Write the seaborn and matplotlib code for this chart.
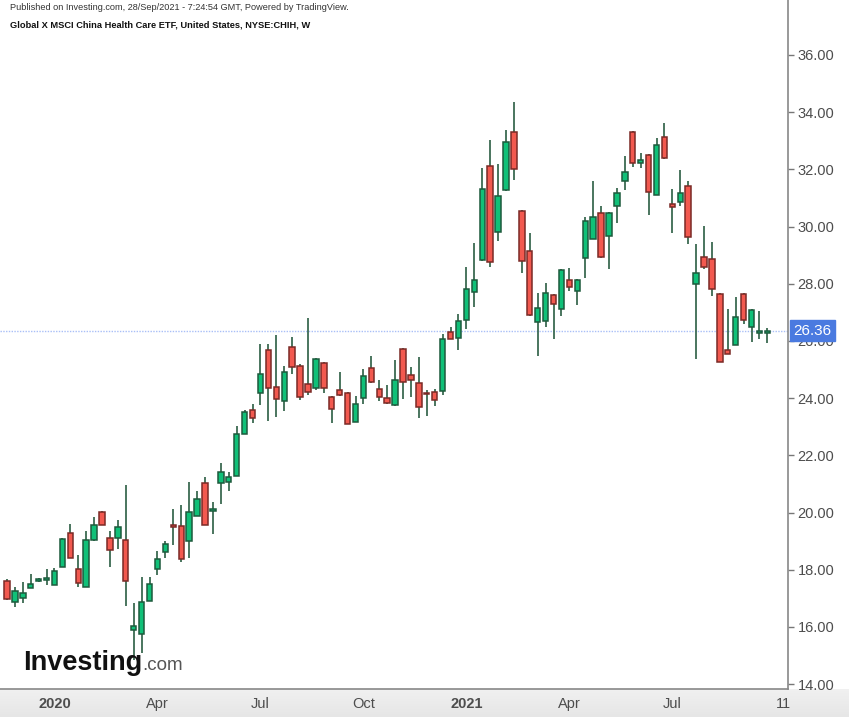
import numpy as np
import pandas as pd
import seaborn as sns
import matplotlib.pyplot as plt
from matplotlib.ticker import FixedLocator, FuncFormatter

# weekly bars of NYSE:CHIH, first bar = week of 25 Nov 2019
opens = [17.61, 16.86, 17.00, 17.36, 17.60, 17.65, 17.46, 18.10, 19.30, 18.03,
         17.41, 19.03, 20.03, 19.11, 19.11, 19.03, 15.88, 15.76, 16.91, 18.02,
         18.63, 19.57, 19.53, 19.02, 19.89, 21.05, 20.05, 21.05, 21.08, 21.28,
         22.74, 23.58, 24.17, 25.69, 24.40, 23.90, 25.78, 25.14, 24.50, 24.35,
         25.23, 24.03, 24.28, 24.17, 23.16, 24.02, 25.05, 24.31, 24.00, 23.75,
         25.73, 24.81, 24.54, 24.15, 24.23, 24.26, 26.30, 26.09, 26.73, 27.71,
         28.82, 32.12, 29.82, 31.26, 33.32, 30.56, 29.14, 26.65, 26.70, 27.61,
         27.12, 28.12, 27.76, 28.91, 29.56, 30.46, 29.68, 30.70, 31.58, 33.32,
         32.21, 32.50, 31.10, 33.14, 30.78, 30.84, 31.40, 27.98, 28.93, 28.87,
         27.63, 25.70, 25.87, 27.63, 26.47, 26.28, 26.29]
highs = [17.68, 17.39, 17.56, 17.84, 17.72, 18.03, 18.07, 19.12, 19.59, 18.53,
         19.36, 19.86, 20.05, 19.36, 19.73, 20.97, 16.83, 17.74, 17.74, 18.67,
         19.02, 20.14, 20.27, 21.06, 20.76, 21.23, 20.37, 21.74, 21.43, 23.04,
         23.59, 23.80, 25.88, 25.88, 26.21, 25.13, 26.12, 25.18, 26.81, 25.40,
         25.25, 24.06, 24.93, 24.20, 24.09, 25.01, 25.47, 24.65, 24.45, 25.34,
         25.76, 25.10, 25.43, 24.29, 24.32, 26.24, 26.48, 26.94, 28.60, 29.42,
         32.04, 33.02, 32.19, 33.38, 34.35, 30.58, 29.79, 27.67, 28.04, 27.65,
         28.50, 28.54, 28.18, 30.35, 31.59, 30.72, 30.50, 31.36, 32.47, 33.35,
         32.56, 32.52, 33.10, 33.61, 31.31, 31.96, 31.59, 29.38, 30.02, 29.47,
         27.69, 27.13, 27.54, 27.69, 27.12, 27.04, 26.44]
lows = [16.95, 16.71, 16.85, 17.36, 17.58, 17.45, 17.45, 18.08, 18.40, 17.40,
        17.40, 19.02, 19.56, 18.09, 18.73, 16.74, 14.85, 15.10, 16.90, 17.81,
        18.40, 18.87, 18.26, 18.40, 19.88, 19.55, 19.24, 20.30, 20.77, 21.27,
        22.73, 23.14, 23.75, 23.20, 23.33, 23.56, 24.85, 23.94, 24.11, 24.30,
        24.17, 23.14, 24.08, 23.09, 23.15, 23.80, 24.52, 23.91, 23.80, 23.74,
        23.97, 24.05, 23.30, 23.38, 23.74, 24.10, 26.05, 25.69, 26.41, 27.20,
        28.80, 28.58, 29.50, 31.25, 31.63, 28.39, 26.87, 25.49, 26.47, 26.06,
        26.87, 27.75, 27.26, 28.21, 29.55, 28.89, 28.52, 30.14, 31.28, 32.09,
        32.06, 30.41, 31.09, 32.35, 29.77, 30.70, 29.39, 25.36, 28.53, 27.57,
        25.26, 25.53, 25.86, 26.58, 25.96, 26.08, 25.92]
closes = [16.98, 17.27, 17.18, 17.50, 17.69, 17.68, 17.97, 19.08, 18.41, 17.55,
          19.03, 19.58, 19.58, 18.69, 19.49, 17.60, 16.05, 16.86, 17.50, 18.37,
          18.89, 19.49, 18.37, 20.03, 20.49, 19.57, 20.09, 21.41, 21.23, 22.75,
          23.53, 23.30, 24.86, 24.35, 23.98, 24.91, 25.10, 24.03, 24.21, 25.37,
          24.35, 23.61, 24.11, 23.11, 23.80, 24.78, 24.58, 24.03, 23.84, 24.64,
          24.58, 24.63, 23.70, 24.13, 23.94, 26.06, 26.08, 26.70, 27.81, 28.12,
          31.30, 28.77, 31.06, 32.96, 32.02, 28.81, 26.92, 27.15, 27.67, 27.29,
          28.48, 27.90, 28.12, 30.20, 30.34, 28.95, 30.46, 31.16, 31.90, 32.22,
          32.32, 31.20, 32.86, 32.38, 30.69, 31.16, 29.64, 28.37, 28.58, 27.81,
          25.28, 25.55, 26.84, 26.73, 27.07, 26.30, 26.36]

tick_pos = [6, 19, 32, 45, 58, 71, 84, 98]
tick_labels = ["2020", "Apr", "Jul", "Oct", "2021", "Apr", "Jul", "11"]
y_ticks = [14, 16, 18, 20, 22, 24, 26, 28, 30, 32, 34, 36]
last_price = 26.36

df = pd.DataFrame({"open": opens, "high": highs, "low": lows, "close": closes})
df["x"] = np.arange(len(df))
df["up"] = df["close"] >= df["open"]
df["bottom"] = df[["open", "close"]].min(axis=1)
df["height"] = (df["close"] - df["open"]).abs().clip(lower=0.06)

sns.set_theme(style="white")
plt.rcParams["font.family"] = ["Liberation Sans", "DejaVu Sans"]

fig = plt.figure(figsize=(8.49, 7.17), dpi=100)

# grey strip under the time axis
strip = fig.add_axes([0, 0, 1, 28 / 717])
grad = np.linspace(0, 1, 50).reshape(-1, 1)
strip.imshow(grad, aspect="auto", cmap=sns.light_palette("#e6e6e6", as_cmap=True),
             extent=[0, 1, 0, 1], origin="upper")
strip.axis("off")

ax = fig.add_axes([0, 28 / 717, 788 / 849, 689 / 717])
ax.set_facecolor("white")

green, red = "#10c078", "#f2594f"
wick = "#3b6a52"

ax.vlines(df["x"], df["low"], df["high"], color=wick, lw=1.3, zorder=2)
for up, face, edge in [(True, green, "#1d5a3c"), (False, red, "#7a2a26")]:
    d = df[df["up"] == up]
    ax.bar(d["x"], d["height"], bottom=d["bottom"], width=0.68,
           color=face, edgecolor=edge, linewidth=1.1, zorder=3)

ax.axhline(last_price, color="#a9bff7", lw=1, ls=(0, (1, 1)), zorder=1)

ax.set_xlim(-0.88, 98.6)
ax.set_ylim(13.83, 37.92)

ax.xaxis.set_major_locator(FixedLocator(tick_pos))
ax.set_xticklabels(tick_labels)
for lab in ax.get_xticklabels():
    if lab.get_text() in ("2020", "2021"):
        lab.set_fontweight("bold")
ax.yaxis.tick_right()
ax.yaxis.set_major_locator(FixedLocator(y_ticks))
ax.yaxis.set_major_formatter(FuncFormatter(lambda v, p: f"{v:.2f}"))
ax.tick_params(axis="both", colors="#777777", labelcolor="#4d4d4d",
               labelsize=10.5, length=4, width=1, pad=3)
ax.tick_params(axis="x", pad=2)

for s in ["left", "top"]:
    ax.spines[s].set_visible(False)
for s in ["right", "bottom"]:
    ax.spines[s].set_color("#888888")
    ax.spines[s].set_linewidth(1.2)

# last price tag, drawn over the 26.00 label as in the original
ax.annotate(f"{last_price:.2f}", xy=(1.0, last_price), xycoords=("axes fraction", "data"),
            xytext=(4, 0), textcoords="offset points", va="center", ha="left",
            color="white", fontsize=11, zorder=10,
            bbox=dict(boxstyle="square,pad=0.22", fc="#4a7ae0", ec="#4a7ae0"))

fig.text(10 / 849, 1 - 8 / 717, "Published on Investing.com, 28/Sep/2021 - 7:24:54 GMT, Powered by TradingView.",
         fontsize=6.6, color="#333333", va="center", ha="left")
fig.text(10 / 849, 1 - 25 / 717, "Global X MSCI China Health Care ETF, United States, NYSE:CHIH, W",
         fontsize=6.7, color="#111111", fontweight="bold", va="center", ha="left")

# watermark
logo = fig.text(23 / 849, 1 - 670 / 717, "Investing", fontsize=19.5, fontweight="bold",
                color="#111111", va="baseline", ha="left")
fig.canvas.draw()
bb = logo.get_window_extent()
fig.text(bb.x1 / fig.bbox.width, 1 - 670 / 717, ".com", fontsize=13.5,
         color="#555555", va="baseline", ha="left")

fig.savefig("out.png", dpi=100)
